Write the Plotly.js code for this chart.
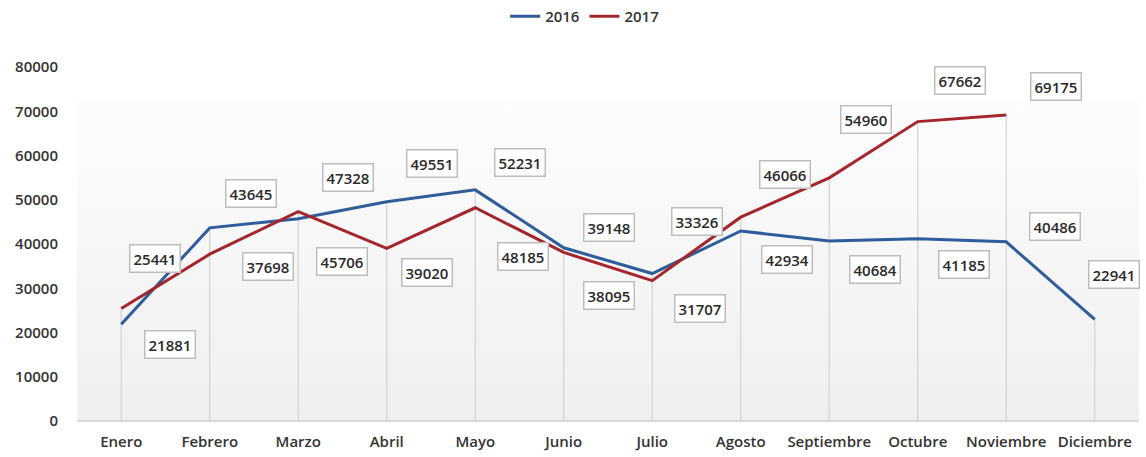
<!DOCTYPE html>
<html>
<head>
<meta charset="utf-8">
<script src="https://cdn.plot.ly/plotly-3.0.1.min.js"></script>
<style>html,body{margin:0;padding:0;background:#fff;}#chart{width:1146px;height:457px;}</style>
</head>
<body>
<div id="chart"></div>
<script>
// ---- data ----
const months = ["Enero","Febrero","Marzo","Abril","Mayo","Junio","Julio","Agosto","Septiembre","Octubre","Noviembre","Diciembre"];
const values2016 = [21881,43645,45706,49551,52231,39148,33326,42934,40684,41185,40486,22941];
const values2017 = [25441,37698,47328,39020,48185,38095,31707,46066,54960,67662,69175,null];
const yTicks = [0,10000,20000,30000,40000,50000,60000,70000,80000];

// ---- label offsets (pixels, style only) ----
const off2016 = [[49,20],[41,-34],[44,43],[45,-38],[45,-27],[45,-20],[45,-52],[46,28],[46,29],[46,26],[49,-15],[19,-45]];
const off2017 = [[34,-50],[58,12],[50,-34],[40,24],[48,49],[45,43],[48,28],[44,-43],[37,-58],[42,-41],[50,-28],null];

const blue = "#2f5d9b";
const red = "#a4262c";
const FONT = "Open Sans, Liberation Sans, Arial, sans-serif";

// drop lines from 0 to the highest value at each month
const dropX = [], dropY = [];
months.forEach((m,i)=>{
  const vals = [values2016[i], values2017[i]].filter(v=>v!==null);
  dropX.push(m,m,null);
  dropY.push(0, Math.max(...vals), null);
});

const traces = [
  {x: dropX, y: dropY, mode:"lines", line:{color:"#d2d2d2", width:1.2}, showlegend:false, hoverinfo:"skip"},
  {x: months, y: values2016, name:"2016", mode:"lines", line:{color:blue, width:3}},
  {x: months, y: values2017, name:"2017", mode:"lines", line:{color:red, width:3}}
];

const annotations = [];
function addLabels(vals, offs){
  vals.forEach((v,i)=>{
    if(v===null) return;
    annotations.push({
      x: months[i], y: v, xref:"x", yref:"y",
      text: String(v), showarrow:false,
      xshift: offs[i][0], yshift: -offs[i][1],
      font:{family:FONT, size:15, color:"#2a2a2a", weight:600},
      bgcolor:"#ffffff", bordercolor:"#bdbdbd", borderwidth:1.5, borderpad:3
    });
  });
}
addLabels(values2016, off2016);
addLabels(values2017, off2017);

const grad = "data:image/svg+xml;utf8," + encodeURIComponent(
  '<svg xmlns="http://www.w3.org/2000/svg" width="100" height="100" preserveAspectRatio="none">' +
  '<defs><linearGradient id="g" x1="0" y1="0" x2="0" y2="1">' +
  '<stop offset="0" stop-color="#fdfdfd"/><stop offset="1" stop-color="#efefef"/></linearGradient></defs>' +
  '<rect width="100" height="100" fill="url(#g)"/></svg>');

const layout = {
  width:1146, height:457,
  margin:{l:77, r:7, t:67, b:36},
  paper_bgcolor:"#ffffff", plot_bgcolor:"rgba(0,0,0,0)",
  showlegend:true,
  legend:{orientation:"h", x:0.478, xanchor:"center", y:1.0, yref:"container", yanchor:"top",
          font:{family:FONT, size:15, color:"#333", weight:600}, bgcolor:"rgba(0,0,0,0)"},
  xaxis:{type:"category", range:[-0.5,11.5], showgrid:false, zeroline:false,
         showline:false, ticks:"", ticklen:0, ticklabelstandoff:10,
         tickfont:{family:FONT, size:15, color:"#333", weight:600}},
  yaxis:{range:[0,80000], tickvals:yTicks, ticktext:yTicks.map(String), showgrid:false,
         zeroline:true, zerolinecolor:"#d9d9d9", zerolinewidth:2, showline:false, ticks:"",
         ticklabelstandoff:18,
         tickfont:{family:FONT, size:15, color:"#333", weight:600}},
  images:[{source:grad, xref:"paper", yref:"paper", x:0, y:0.905, sizex:1, sizey:0.905,
           xanchor:"left", yanchor:"top", sizing:"stretch", layer:"below"}],
  annotations: annotations
};

Plotly.newPlot("chart", traces, layout, {displayModeBar:false, staticPlot:true});
</script>
</body>
</html>
